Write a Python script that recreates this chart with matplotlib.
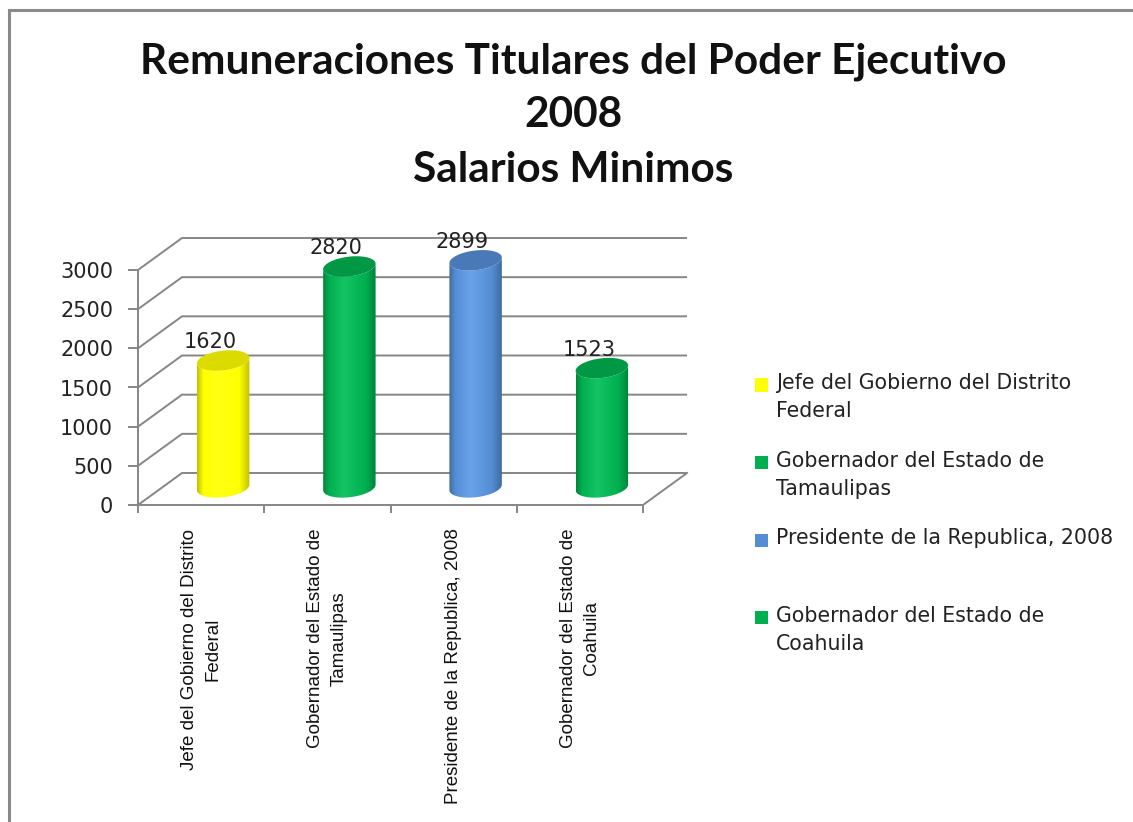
import numpy as np
import matplotlib
matplotlib.use("Agg")
import matplotlib.pyplot as plt
from matplotlib.colors import LinearSegmentedColormap, to_rgb
from matplotlib.patches import Polygon, Rectangle
from matplotlib.lines import Line2D

# data
categories = ["Jefe del Gobierno del Distrito\nFederal",
              "Gobernador del Estado de\nTamaulipas",
              "Presidente de la Republica, 2008",
              "Gobernador del Estado de\nCoahuila"]
values = [1620, 2820, 2899, 1523]
bar_colors = ["#FFFF00", "#00B050", "#558ED5", "#00B050"]
yticks = [0, 500, 1000, 1500, 2000, 2500, 3000]
title_lines = ["Remuneraciones Titulares del Poder Ejecutivo", "2008", "Salarios Minimos"]

W, H = 1133, 822
fig = plt.figure(figsize=(W / 100, H / 100), dpi=100)
fig.patch.set_facecolor("white")

# front plane of the fake 3d box, in pixels
x0_px, y0_px = 138, 505
cat_px = 126.25
val_px = 235 / 3000
xmax, ymax = 4.5, 3500
ax = fig.add_axes([x0_px / W, (H - y0_px) / H, xmax * cat_px / W, ymax * val_px / H])
ax.patch.set_visible(False)

DX = 44 / cat_px     # depth offset in data units
DY = 32 / val_px
grid_c = "#868686"
n = len(values)

# walls + floor
for v in yticks:
    ax.plot([0, DX, n + DX], [v, v + DY, v + DY], color=grid_c, lw=1.4, zorder=1,
            solid_capstyle="butt")
ax.plot([n, n + DX], [0, DY], color=grid_c, lw=1.4, zorder=1)

# cylinders
r = 0.2
s = 0.32
t_r = np.arctan2(0.5 * s * DX, r)


def ring(cx, cy, t):
    return np.column_stack([cx + r * np.cos(t) + 0.5 * s * DX * np.sin(t), cy + s * DY * np.sin(t)])


grad = np.linspace(0, 1, 256)[None, :]
for i, (v, c) in enumerate(zip(values, bar_colors)):
    cx = i + 0.5 + DX / 2
    base = DY * 0.55
    top = v + base
    t = np.linspace(t_r + np.pi, t_r + 2 * np.pi, 80)
    body = np.vstack([ring(cx, base, t), ring(cx, top, t[::-1])])
    poly = Polygon(body, closed=True, facecolor="none", edgecolor="none", zorder=3)
    ax.add_patch(poly)
    rgb = np.array(to_rgb(c))
    dark = rgb * 0.75
    light = np.minimum(rgb + 0.08, 1)
    cmap = LinearSegmentedColormap.from_list(
        "cyl", [(0, dark), (0.12, rgb), (0.4, light), (0.8, rgb), (1, dark)])
    im = ax.imshow(grad, cmap=cmap, aspect="auto", zorder=3, interpolation="bilinear",
                   extent=(body[:, 0].min(), body[:, 0].max(), base - s * DY, top + s * DY))
    im.set_clip_path(poly)
    tt = np.linspace(0, 2 * np.pi, 100)
    ax.add_patch(Polygon(ring(cx, top, tt), closed=True, facecolor=rgb * 0.86,
                         edgecolor="none", zorder=4))
    ax.text(i + 0.57, v + 460, f"{v}", ha="center", va="center", fontsize=15,
            color="#222222", zorder=5)

ax.set_xlim(0, xmax)
ax.set_ylim(0, ymax)

for sp in ["top", "right"]:
    ax.spines[sp].set_visible(False)
ax.spines["left"].set_bounds(0, 3000)
ax.spines["bottom"].set_bounds(0, n)
for sp in ["left", "bottom"]:
    ax.spines[sp].set_color(grid_c)
    ax.spines[sp].set_linewidth(1.4)

ax.set_yticks(yticks)
ax.tick_params(axis="y", length=7, width=1.4, color=grid_c, pad=11, labelsize=15,
               labelcolor="#222222")
ax.set_xticks(np.arange(n) + 0.5, categories, rotation=90, fontsize=13.5,
              family=["Liberation Sans", "DejaVu Sans"], color="#111111",
              linespacing=1.45)
ax.set_xticks(np.arange(n + 1), minor=True)
ax.tick_params(axis="x", which="major", length=0, pad=17)
ax.tick_params(axis="x", which="minor", length=6, width=1.4, color=grid_c)

# title
for k, (line, ypx) in enumerate(zip(title_lines, [62, 115, 170])):
    fig.text(573 / W, 1 - ypx / H, line, ha="center", va="center", fontsize=30.5,
             fontweight="bold", family=["Lato", "DejaVu Sans"], color="#111111")

# legend, drawn by hand to keep Excel's even slots
for i, (lab, c) in enumerate(zip(categories, bar_colors)):
    ypx = 385 + 77.5 * i
    fig.patches.append(Rectangle(((755) / W, 1 - (ypx + 6.5) / H), 13 / W, 13 / H,
                                 transform=fig.transFigure, facecolor=c, edgecolor="none"))
    fig.text(776 / W, 1 - (ypx - 12) / H, lab, ha="left", va="top", fontsize=14.8,
             color="#222222", linespacing=1.5)

# chart frame (left + top edges visible)
fig.add_artist(Line2D([9 / W, 9 / W], [0, 1 - 10 / H], color="#8a8a8a", lw=2.2,
                      transform=fig.transFigure))
fig.add_artist(Line2D([9 / W, 1], [1 - 10 / H, 1 - 10 / H], color="#8a8a8a", lw=2.2,
                      transform=fig.transFigure))

fig.savefig("out.png", dpi=100)
